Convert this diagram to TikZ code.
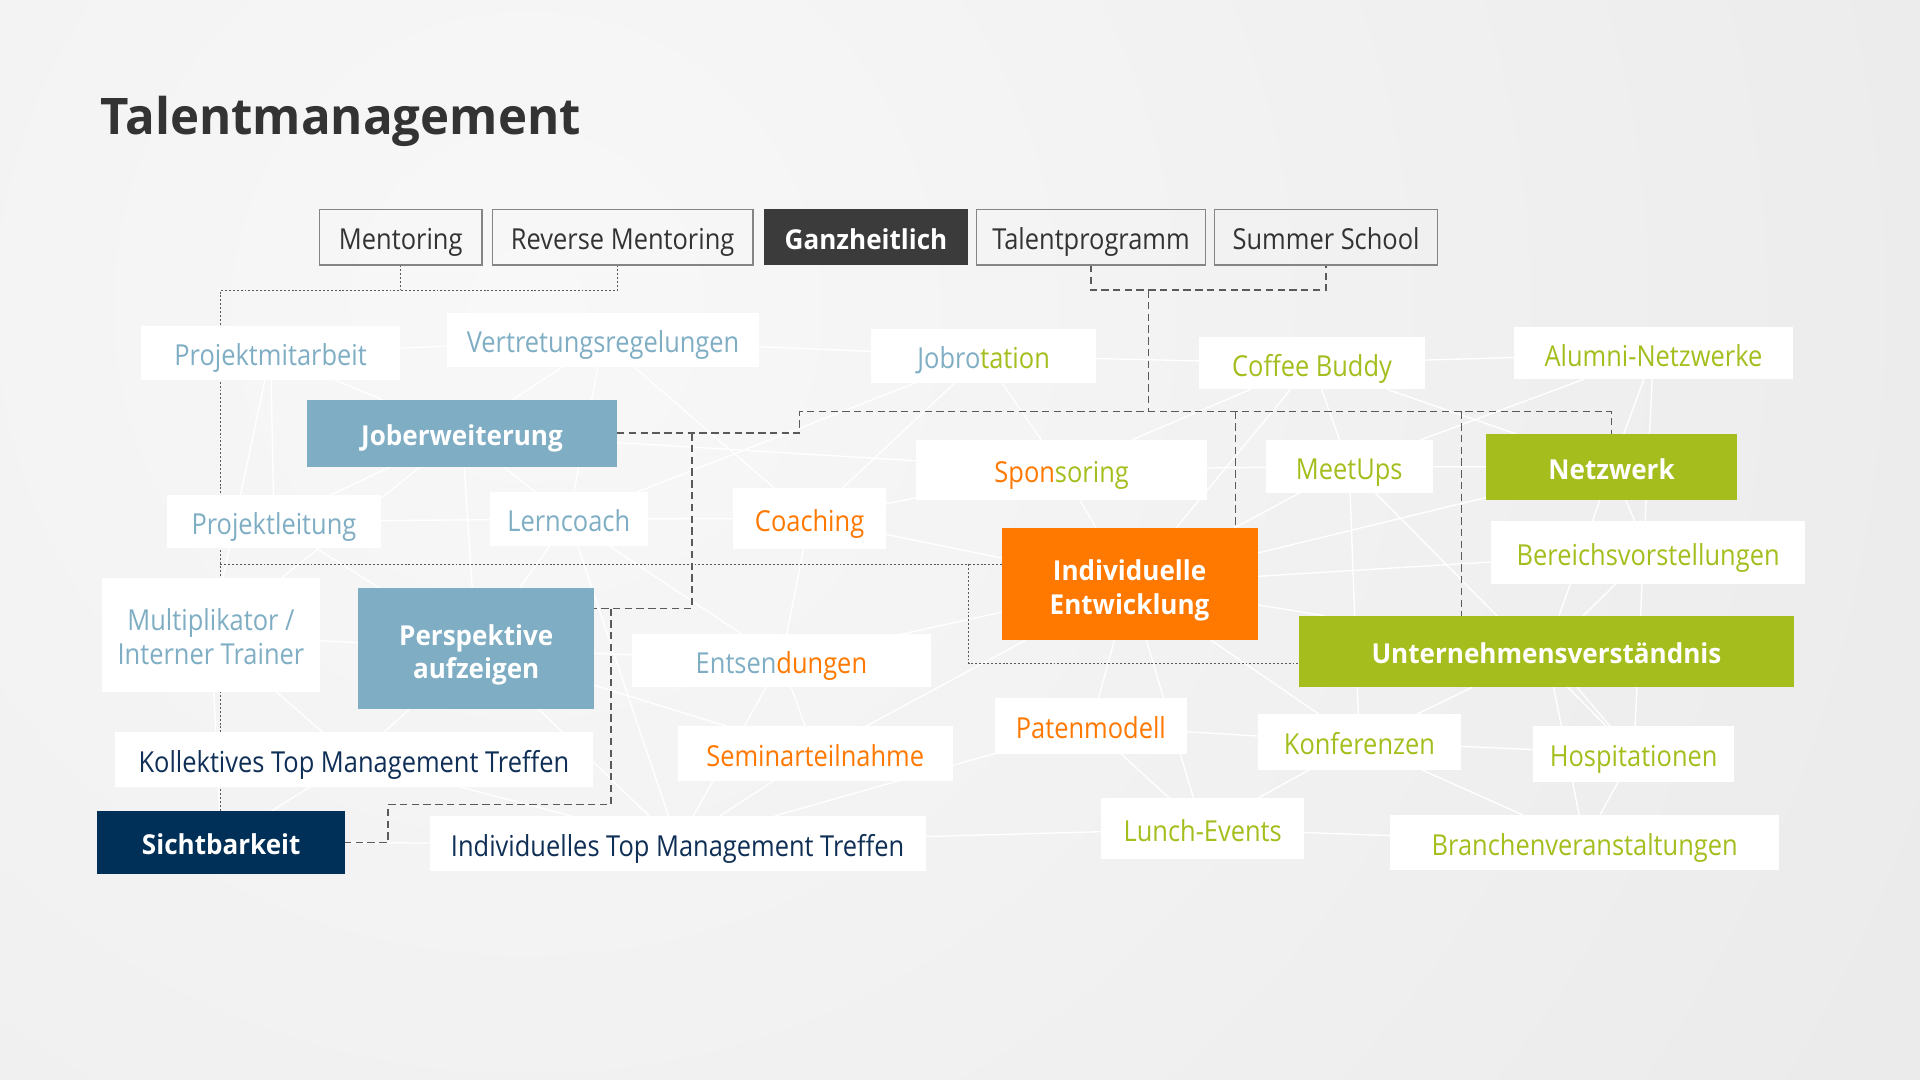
\documentclass[tikz,border=0pt]{standalone}
\usepackage{fontspec}
\setmainfont{Open Sans}[FakeStretch=0.88]
\newfontfamily\boldfam{Open Sans}[FakeStretch=0.95]
\newfontfamily\titlefam{Open Sans}[FakeStretch=0.975]
\usetikzlibrary{calc}

\definecolor{cblue}{HTML}{7FAEC4}
\definecolor{corange}{HTML}{FF7800}
\definecolor{cgreen}{HTML}{A5BD1D}
\definecolor{cnavy}{HTML}{003058}
\definecolor{cnavyt}{HTML}{0F2F56}
\definecolor{cdark}{HTML}{3B3B3B}
\definecolor{ctext}{HTML}{333333}
\definecolor{cline}{HTML}{5A5A5A}
\definecolor{cframe}{HTML}{858585}
\definecolor{bgA}{HTML}{F8F8F8}
\definecolor{bgB}{HTML}{DCDCDC}

\newcommand\normfnt{\fontsize{11.8}{13.9}\selectfont}
\newcommand\boldfnt{\boldfam\bfseries\fontsize{11.2}{13.8}\selectfont}
\newcommand\titlefnt{\titlefam\bfseries\fontsize{20.6}{24}\selectfont}
\newcommand\mybox[7]{\node[#2, minimum width={(#4-#3)*0.5pt}, minimum height={(#6-#5)*0.5pt}] (#1) at ({(#3+#4)/2},{(#5+#6)/2}) {#7};}
\newcommand\twol[2]{\begin{tabular}[b]{@{}c@{}}#1\\#2\end{tabular}}

\pgfdeclarelayer{bg}
\pgfdeclarelayer{web}
\pgfdeclarelayer{conn}
\pgfsetlayers{bg,web,conn,main}

\tikzset{
  base/.style={inner sep=0pt, outer sep=0pt, rectangle},
  tb/.style={base, draw=cframe, line width=0.6pt, text=ctext, font=\normfnt, text height=10.4pt, text depth=0pt},
  wb/.style={base, fill=white, font=\normfnt, text height=10.4pt, text depth=0pt},
  fb/.style={base, text=white, font=\boldfnt, text height=10.0pt, text depth=0pt},
  twon/.style={text height=24.3pt, text depth=0pt},
  twob/.style={text height=24.5pt, text depth=0pt},
  webline/.style={draw=white, line width=0.55pt},
  dashc/.style={draw=cline, line width=0.6pt, dash pattern=on 3pt off 1.8pt},
  dotc/.style={draw=cline, line width=0.5pt, dash pattern=on 0.8pt off 0.8pt},
}

\begin{document}
\begin{tikzpicture}[x=0.5pt, y=-0.5pt]
\useasboundingbox (0,0) rectangle (1568,882);

\begin{pgfonlayer}{bg}
\begin{scope}
  \clip (0,0) rectangle (1568,882);
  \fill[bgB] (0,0) rectangle (1568,882);
  \shade[inner color=bgA, outer color=bgB] (430,250) circle (2700);
\end{scope}
\end{pgfonlayer}

% title
\node[anchor=base west, inner sep=0pt, font=\titlefnt, text=ctext] (title) at (82,110) {Talentmanagement};

% top row
\mybox{men}{tb}{261}{393.5}{171}{216.5}{Mentoring}
\mybox{rm}{tb}{402}{615}{171}{216.5}{Reverse Mentoring}
\mybox{gz}{fb, fill=cdark}{624}{790.5}{171}{216.5}{Ganzheitlich}
\mybox{tp}{tb}{797.5}{984.5}{171}{216.5}{Talentprogramm}
\mybox{ss}{tb}{992}{1174}{171}{216.5}{Summer School}

% white text boxes
\mybox{pm}{wb, text=cblue}{115.5}{326.5}{266.5}{310}{Projektmitarbeit}
\mybox{vr}{wb, text=cblue}{365}{620}{256}{299.6}{Vertretungsregelungen}
\mybox{jr}{wb}{711.6}{895}{269}{312.5}{\textcolor{cblue}{Jobro}\textcolor{cgreen}{tation}}
\mybox{cb}{wb, text=cgreen}{979}{1164}{275.6}{318}{Coffee Buddy}
\mybox{alu}{wb, text=cgreen}{1236.6}{1464}{267.4}{309.8}{Alumni-Netzwerke}
\mybox{sp}{wb}{748}{986}{359}{408}{\textcolor{corange}{Spon}\textcolor{cgreen}{soring}}
\mybox{mu}{wb, text=cgreen}{1033.6}{1170}{359.4}{402.4}{MeetUps}
\mybox{pl}{wb, text=cblue}{136.6}{310.8}{404.2}{447.8}{Projektleitung}
\mybox{lc}{wb, text=cblue}{400}{529}{401.8}{445.8}{Lerncoach}
\mybox{co}{wb, text=corange}{599}{723.3}{398.6}{448.6}{Coaching}
\mybox{bv}{wb, text=cgreen}{1218}{1474}{425.5}{476.6}{Bereichsvorstellungen}
\mybox{mt}{wb, text=cblue, twon}{83.3}{261.2}{472}{565}{\twol{Multiplikator /}{Interner Trainer}}
\mybox{ent}{wb}{516}{760.3}{518}{560.8}{\textcolor{cblue}{Entsen}\textcolor{corange}{dungen}}
\mybox{kt}{wb, text=cnavyt}{94}{484}{598}{642.4}{Kollektives Top Management Treffen}
\mybox{sem}{wb, text=corange}{553.5}{778}{593}{637.8}{Seminarteilnahme}
\mybox{pat}{wb, text=corange}{812.3}{969.5}{570.3}{615.8}{Patenmodell}
\mybox{ko}{wb, text=cgreen}{1027.1}{1193.2}{583.1}{628.8}{Konferenzen}
\mybox{ho}{wb, text=cgreen}{1252.2}{1416.1}{593}{638.4}{Hospitationen}
\mybox{itm}{wb, text=cnavyt}{350.8}{756}{666.4}{711.3}{Individuelles Top Management Treffen}
\mybox{le}{wb, text=cgreen}{899.2}{1065.2}{652}{701.8}{Lunch-Events}
\mybox{br}{wb, text=cgreen}{1135.5}{1452.8}{665.7}{710.5}{Branchenveranstaltungen}

% filled boxes
\mybox{je}{fb, fill=cblue}{250.6}{504}{326.5}{381}{Joberweiterung}
\mybox{nw}{fb, fill=cgreen}{1213.6}{1418.6}{354.4}{408.3}{Netzwerk}
\mybox{ie}{fb, fill=corange, twob}{818}{1027}{431.2}{523}{\twol{Individuelle}{Entwicklung}}
\mybox{pa}{fb, fill=cblue, twob}{292.5}{485.3}{480.5}{579.3}{\twol{Perspektive}{aufzeigen}}
\mybox{uv}{fb, fill=cgreen}{1060.8}{1465}{502.8}{561.3}{Unternehmensverständnis}
\mybox{sb}{fb, fill=cnavy}{79.5}{281.8}{662.3}{713.8}{Sichtbarkeit}

% background web
\begin{pgfonlayer}{web}
\foreach \a/\b in {pm/vr,pm/je,pm/pl,pm/mt,vr/je,vr/lc,vr/co,vr/jr,lc/jr,jr/co,jr/cb,jr/sp,
  je/sp,je/pl,je/mt,je/pa,je/lc,co/sp,co/ie,lc/co,co/ent,lc/pa,lc/itm,lc/ent,pl/lc,pl/pa,
  mt/pa,mt/sb,mt/kt,pa/kt,pa/itm,pa/ent,pa/sem,kt/sb,kt/itm,sb/itm,ent/itm,ent/sem,ent/ie,
  sem/ie,sem/itm,itm/pat,itm/le,cb/alu,cb/sp,cb/ie,cb/mu,cb/nw,alu/mu,alu/nw,alu/ho,sp/mu,
  sp/ie,mu/ie,mu/ko,mu/ho,mu/nw,ie/nw,ie/bv,ie/uv,ie/pat,ie/le,ie/ko,nw/bv,nw/uv,bv/uv,
  uv/ko,uv/br,uv/ho,ko/ho,ko/br,ko/le,pat/ko,pat/le,ho/br,le/br}
  \draw[webline] (\a) -- (\b);
\end{pgfonlayer}

% connectors
\begin{pgfonlayer}{conn}
\coordinate (lvA) at (0,237);
\coordinate (lvB) at (0,336);
\coordinate (lvC) at (0,497);
\coordinate (mbr) at (180,237);
\coordinate (ieb) at (180,461);
\coordinate (ied) at (791,461);
\coordinate (tj) at (938,237);
\coordinate (d1) at (1009,336);
\coordinate (d2) at (1193.5,336);
\coordinate (jx) at (565,353.8);
\coordinate (px) at (499,497);
\coordinate (sx) at (317,657);

% dotted
\draw[dotc] (men.south) -- (men.south |- lvA);
\draw[dotc] ([xshift=-2.25pt]rm.south) |- (mbr) -- (sb.north -| mbr);
\draw[dotc] (ieb) -- (ieb -| ie.west);
\draw[dotc] (ied) |- ([yshift=-5pt]uv.west);

% dashed
\draw[dashc] (tp.south) |- (ss.south |- lvA) -- (ss.south);
\draw[dashc] (tj) -- (tj |- lvB);
\draw[dashc] (je.east) -| (653,336) -- (nw.north |- lvB) -- (nw.north);
\draw[dashc] (d1) -- (d1 |- ie.north);
\draw[dashc] (d2) -- (d2 |- uv.north);
\draw[dashc] (jx) |- (pa.east |- lvC);
\draw[dashc] (px) |- (sx) |- (sb.east);
\end{pgfonlayer}
\end{tikzpicture}
\end{document}
